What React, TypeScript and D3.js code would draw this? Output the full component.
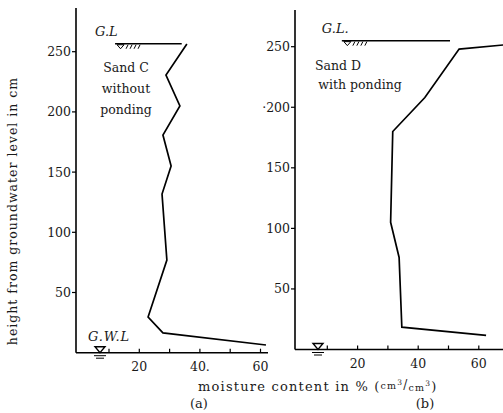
import React from "react";
import * as d3 from "d3";

// Panel (a): Sand C without ponding
const sandCMoisture = [35.7, 28.8, 33.4, 27.8, 30.5, 27.5, 29.1, 22.9, 27.8, 61.8];
const sandCHeight = [256.4, 230.6, 204.9, 180.8, 155, 131.8, 76.9, 29.6, 16.4, 6.4];
// Panel (b): Sand D with ponding
const sandDMoisture = [68, 53.5, 42.2, 31.6, 30.9, 33.7, 34.6, 62.4];
const sandDHeight = [251.4, 248, 208, 180, 105, 76, 18.4, 11.6];

const yTickValues = [50, 100, 150, 200, 250];
const leftYTickLabels = ["50", "100", "150", "200", "250"];
const rightYTickLabelsShown = ["50", "100", "150", "·200", "250"];
const xTickValues = [10, 20, 30, 40, 50, 60];
const xLabelValues = [20, 40, 60];
const leftXLabels = ["20", "40.", "60"];
const rightXLabels = ["20", "40", "60"];
const groundLevelA = { height: 256.6, from: 12, to: 34 };
const groundLevelB = { height: 255, from: 14.8, to: 50.5 };

const FONT = "'DejaVu Serif', 'Liberation Serif', serif";

type PanelProps = {
  xs: d3.ScaleLinear<number, number>;
  ys: d3.ScaleLinear<number, number>;
  axisX: number;
  axisTop: number;
  axisRight: number;
  moisture: number[];
  height: number[];
  yLabels: string[];
  xLabels: string[];
  gl: { height: number; from: number; to: number };
  glText: string;
  gwlX: number;
  clipId: string;
};

function Panel(p: PanelProps) {
  const { xs, ys, axisX, axisTop, axisRight } = p;
  const y0 = ys(0);
  const line = d3
    .line<number>()
    .x((_, i) => xs(p.moisture[i]))
    .y((_, i) => ys(p.height[i]));
  const glY = ys(p.gl.height);
  const glX1 = xs(p.gl.from);
  const glX2 = xs(p.gl.to);
  return (
    <g>
      <clipPath id={p.clipId}>
        <rect x={axisX} y={0} width={axisRight - axisX + 40} height={413} />
      </clipPath>
      {/* y axis */}
      <line x1={axisX} x2={axisX} y1={axisTop} y2={y0} stroke="#000" strokeWidth={1.6} />
      {yTickValues.map((v, i) => (
        <g key={v}>
          <line x1={axisX - 4} x2={axisX} y1={ys(v)} y2={ys(v)} stroke="#000" strokeWidth={1.2} />
          <text x={axisX - 5} y={ys(v) + 4.5} textAnchor="end" fontSize={12.5} fontFamily={FONT} fill="#1a1a1a">
            {p.yLabels[i]}
          </text>
        </g>
      ))}
      {/* x axis */}
      <line x1={axisX} x2={axisRight} y1={y0} y2={y0} stroke="#000" strokeWidth={1.6} />
      {xTickValues.map((v) => (
        <line key={v} x1={xs(v)} x2={xs(v)} y1={y0} y2={y0 - 4} stroke="#000" strokeWidth={1.2} />
      ))}
      {xLabelValues.map((v, i) => (
        <text key={v} x={xs(v)} y={y0 + 18} textAnchor="middle" fontSize={12.5} fontFamily={FONT} fill="#1a1a1a">
          {p.xLabels[i]}
        </text>
      ))}
      {/* ground level */}
      <line x1={glX1} x2={glX2} y1={glY} y2={glY} stroke="#000" strokeWidth={1.5} />
      <path
        d={`M${glX1 + 2},${glY + 1} L${glX1 + 9},${glY + 1} L${glX1 + 5.5},${glY + 5} Z`}
        fill="none"
        stroke="#000"
        strokeWidth={1}
      />
      {[0, 1, 2, 3].map((k) => (
        <line
          key={k}
          x1={glX1 + 11 + k * 4}
          x2={glX1 + 13 + k * 4}
          y1={glY + 5}
          y2={glY + 1}
          stroke="#000"
          strokeWidth={1}
        />
      ))}
      <text x={glX1 - 20} y={glY - 8} fontSize={13} fontStyle="italic" fontFamily={FONT} fill="#1a1a1a">
        {p.glText}
      </text>
      {/* groundwater level symbol */}
      <path
        d={`M${p.gwlX - 5},${y0 - 6} L${p.gwlX + 5},${y0 - 6} L${p.gwlX},${y0} Z`}
        fill="none"
        stroke="#000"
        strokeWidth={1.4}
      />
      <line x1={p.gwlX - 6} x2={p.gwlX + 6} y1={y0 + 3} y2={y0 + 3} stroke="#000" strokeWidth={1} />
      <line x1={p.gwlX - 4} x2={p.gwlX + 4} y1={y0 + 5.5} y2={y0 + 5.5} stroke="#000" strokeWidth={1} />
      {/* moisture profile */}
      <path
        d={line(p.moisture) || ""}
        fill="none"
        stroke="#000"
        strokeWidth={1.7}
        strokeLinejoin="miter"
        clipPath={`url(#${p.clipId})`}
      />
    </g>
  );
}

export default function App() {
  const xsA = d3.scaleLinear().domain([0, 60]).range([78.7, 260.5]);
  const ysA = d3.scaleLinear().domain([0, 250]).range([352.7, 51.7]);
  const xsB = d3.scaleLinear().domain([0, 60]).range([297, 478.8]);
  const ysB = d3.scaleLinear().domain([0, 250]).range([349.5, 46.7]);
  return (
    <svg
      width={503}
      height={413}
      style={{ position: "absolute", left: 0, top: 0, background: "#fff" }}
    >
      <rect x={0} y={0} width={503} height={413} fill="#fff" />
      <Panel
        xs={xsA}
        ys={ysA}
        axisX={76}
        axisTop={8}
        axisRight={268}
        moisture={sandCMoisture}
        height={sandCHeight}
        yLabels={leftYTickLabels}
        xLabels={leftXLabels}
        gl={groundLevelA}
        glText="G.L"
        gwlX={100}
        clipId="clipA"
      />
      <Panel
        xs={xsB}
        ys={ysB}
        axisX={295}
        axisTop={10}
        axisRight={503}
        moisture={sandDMoisture}
        height={sandDHeight}
        yLabels={rightYTickLabelsShown}
        xLabels={rightXLabels}
        gl={groundLevelB}
        glText="G.L."
        gwlX={318}
        clipId="clipB"
      />
      {/* annotations */}
      <g fontFamily={FONT} fontSize={12.5} fill="#1a1a1a" textAnchor="middle">
        <text x={126} y={72}>Sand C</text>
        <text x={126} y={93}>without</text>
        <text x={126} y={114}>ponding</text>
        <text x={338} y={70}>Sand D</text>
        <text x={360} y={89}>with ponding</text>
      </g>
      <text x={88} y={341} fontFamily={FONT} fontSize={13} letterSpacing={0.8} fontStyle="italic" fill="#1a1a1a">
        G.W.L
      </text>
      {/* axis titles */}
      <text
        transform="translate(17,211) rotate(-90)"
        textAnchor="middle"
        fontFamily={FONT}
        fontSize={12.5}
        letterSpacing={1}
        fill="#1a1a1a"
      >
        height from groundwater level in cm
      </text>
      <text x={198} y={391} fontFamily={FONT} fontSize={13} letterSpacing={1.2} fill="#1a1a1a">
        moisture content in % (
        <tspan fontSize={9.5} dy={-2}>cm</tspan>
        <tspan fontSize={7.5} dy={-4}>3</tspan>
        <tspan fontSize={12} dy={4}>/</tspan>
        <tspan fontSize={9.5} dy={2}>cm</tspan>
        <tspan fontSize={7.5} dy={-5}>3</tspan>
        <tspan dy={5}>)</tspan>
      </text>
      <text x={199} y={408} textAnchor="middle" fontFamily={FONT} fontSize={13} fill="#1a1a1a">
        (a)
      </text>
      <text x={425} y={408} textAnchor="middle" fontFamily={FONT} fontSize={13} fill="#1a1a1a">
        (b)
      </text>
    </svg>
  );
}
